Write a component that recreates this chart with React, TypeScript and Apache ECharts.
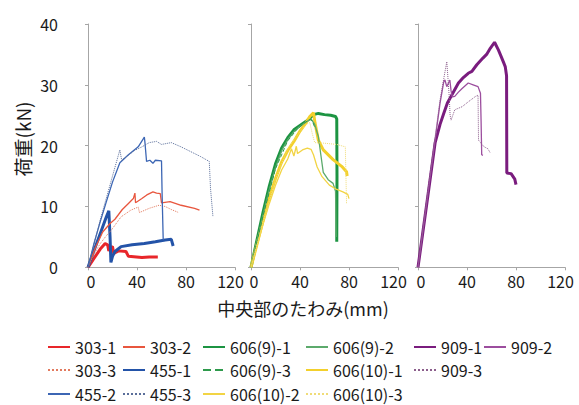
import React, { useEffect, useRef } from "react";
import * as echarts from "echarts";

// tick values
const xTicks = [0, 40, 80, 120];
const yTicks = [0, 10, 20, 30, 40];

// series data [deflection mm, load kN]
const s303_1 = [[0,0],[5,1.5],[10,3.0],[14,3.9],[16,3.7],[17,2.7],[18,3.2],[20,3.4],[21,2.3],[25,2.7],[31,2.6],[33,1.8],[44,1.6],[50,1.7],[57,1.7]];
const s303_2 = [[0,0],[6,3.2],[12,5.8],[18,7.2],[22,7.9],[28,9.5],[33,10.5],[37,11.3],[38.3,12.2],[38.8,10.6],[44,11.3],[48,11.9],[53,12.4],[56,12.2],[59,12.1],[60,10.6],[67,10.8],[76,10.2],[87,9.7],[91,9.4]];
const s303_3 = [[0,0],[5,2.2],[10,3.9],[15,5.2],[19,6.1],[27,8.3],[35,9.4],[41,9.9],[42,9.0],[50,9.7],[58,10.2],[63,10.0],[68,9.5],[74,9.0]];
const s455_1 = [[0,0],[5,2.8],[11,6.1],[15,8.3],[17,9.3],[18,5],[18.7,0.8],[20,1.8],[22,2.6],[27,3.4],[36,3.7],[46,3.9],[55,4.2],[63,4.5],[68,4.6],[69.5,3.5]];
const s455_2 = [[0,0],[5,4],[10,7.5],[15,10.8],[20,14],[26,17.2],[33,18.5],[41,19.8],[46,21.4],[46.5,20.5],[47.8,17.4],[50.5,17.6],[53,17.1],[55,17.6],[60,17.5],[60.5,12],[61.4,4.5]];
const s455_3 = [[0,0],[10,7.8],[20,15],[26,19.3],[27.5,17.6],[32,18.3],[38,19.2],[44,19.8],[50,20.5],[56,20.7],[60,20.2],[68,20.5],[76,19.8],[84,19],[92,18.2],[99,17.4],[100,13],[102,8.3]];
const s606_9_1 = [[0,0],[5,4.6],[10,9.2],[15,13.4],[20,17],[25,19.6],[30,21.3],[35,22.6],[40,23.3],[45,24],[48,24.5],[51,25.1],[55,25.3],[60,25.1],[65,25],[69,24.8],[70,24.4],[70.2,15],[70,4.2]];
const s606_9_2 = [[0,0],[5,4.4],[10,8.8],[15,12.8],[20,16.4],[25,19.2],[30,21],[35,22.3],[40,23.2],[45,23.9],[49,24.4],[52,23.5],[55,21.5],[57,18.5],[59,15.6],[63,14.4],[67,13.8],[69,12.5],[69.5,5]];
const s606_9_3 = [[0,0],[10,8.6],[20,16.2],[30,20.8],[38,22.8],[44,23.8],[48,24.3],[50,24.1],[52,23]];
const s606_10_1 = [[0,0],[5,3.9],[10,7.8],[15,11.5],[20,14.6],[25,17.3],[30,19.2],[35,20.7],[40,22.4],[45,23.8],[48,24.8],[51,25.4],[52.3,23.7],[55,20.9],[59,19.3],[67,17.7],[74,16.6],[78,15.7],[78.5,15]];
const s606_10_2 = [[0,0],[5,3.6],[10,7.2],[15,10.5],[20,13.5],[25,16],[30,17.8],[33,19.5],[35,18.3],[37,19.9],[38,18.7],[42,19.3],[46,19.6],[49,19.4],[51,18.5],[54,16.5],[58,14.9],[64,13.5],[70,12.8],[75,12.4],[79,12],[80,11.3]];
const s606_10_3 = [[0,0],[10,7.5],[20,14.5],[30,19.5],[40,22.3],[45,23.5],[48,23.8],[50,22],[52,20.5],[60,20.4],[70,20.2],[77,19.8],[77.5,15],[78,10.5]];
const s909_1 = [[0,0],[7,10.2],[14,20.5],[18,23.5],[21,25.3],[24,27],[27.5,28.3],[33,30.3],[37,31.2],[41,31.9],[44,32.2],[48,33.3],[53,34.4],[56,35],[59,36],[62.5,37],[65.7,35.7],[68,34.6],[70,33.6],[71.2,33],[72.3,31.5],[72.5,15.5],[76,15.4],[79,14.5],[80,13.6]];
const s909_2 = [[0,0],[10,15],[18,27],[21,30.5],[22,30.8],[23.5,29.7],[26,30.8],[27,29],[28,28],[30,28.1],[33,28.8],[36,29.4],[41,30.3],[45,30],[49,29.7],[51,28.6],[51.5,24],[52,18.5],[53,18.4]];
const s909_3 = [[0,0],[10,15.5],[18,27.5],[21,31],[23.5,33.8],[24.5,31],[25.5,28],[26.2,25],[27,24.2],[30,25.9],[36,26.4],[41,27.2],[47,28.1],[49,28.3],[49.4,20.9],[54,19.8],[57,19.5],[59,18.8]];

const seriesNames = ["303-1","303-2","303-3","455-1","455-2","455-3","606(9)-1","606(9)-2","606(9)-3","606(10)-1","606(10)-2","606(10)-3","909-1","909-2","909-3"];
const seriesData = [s303_1,s303_2,s303_3,s455_1,s455_2,s455_3,s606_9_1,s606_9_2,s606_9_3,s606_10_1,s606_10_2,s606_10_3,s909_1,s909_2,s909_3];

// styles (panel, color, width, line type)
const styles: [number, string, number, string][] = [
  [0, "#E8262A", 3, "solid"],
  [0, "#E8563E", 1.3, "solid"],
  [0, "#E27A5E", 1, "dotted"],
  [0, "#2353A8", 3, "solid"],
  [0, "#3C66B4", 1.3, "solid"],
  [0, "#5A6E9A", 1, "dotted"],
  [1, "#1C9442", 3, "solid"],
  [1, "#5CAA6C", 1.3, "solid"],
  [1, "#2E9A4C", 1, "dashed"],
  [1, "#F3D02C", 3, "solid"],
  [1, "#F2D444", 1.3, "solid"],
  [1, "#F0DC78", 1, "dotted"],
  [2, "#7A1C7E", 3, "solid"],
  [2, "#9C4E9E", 1.3, "solid"],
  [2, "#8C5E8C", 1, "dotted"],
];

// legend placement [left, rowCenter]
const legendPos: [number, number][] = [
  [47, 347], [122, 347], [47, 370], [122, 370], [47, 394], [122, 394],
  [202, 347], [305, 347], [202, 370], [305, 370], [202, 394], [305, 394],
  [413, 347], [483, 347], [413, 370],
];

const FONT = "'Noto Sans CJK JP', 'Noto Sans', sans-serif";
const gridLefts = [88, 251, 418];

export default function App() {
  const ref = useRef<HTMLDivElement>(null);
  useEffect(() => {
    if (!ref.current) return;
    const chart = echarts.init(ref.current, undefined, { renderer: "svg" });
    const axisColor = "#A6A6A6";
    const lbl = { fontSize: 16, color: "#1a1a1a", fontFamily: FONT };
    const grids = gridLefts.map((l) => ({ left: l, top: 24, width: 147, height: 243.3 }));
    const xAxes = gridLefts.map((_, i) => ({
      type: "value",
      gridIndex: i,
      min: xTicks[0],
      max: xTicks[xTicks.length - 1],
      interval: 40,
      axisLine: { show: true, lineStyle: { color: axisColor, width: 1 } },
      axisTick: { show: true, length: 3, lineStyle: { color: axisColor } },
      splitLine: { show: false },
      axisLabel: {
        ...lbl,
        margin: 6,
        formatter: (v: number) =>
          v === xTicks[0] ? `{a|${v}}` : v === xTicks[xTicks.length - 1] ? `{b|${v}}` : `${v}`,
        rich: {
          a: { ...lbl, padding: [0, 0, 0, 6] },
          b: { ...lbl, padding: [0, 9, 0, 0] },
        },
      },
    }));
    const yAxes = gridLefts.map((_, i) => ({
      type: "value",
      gridIndex: i,
      min: yTicks[0],
      max: yTicks[yTicks.length - 1],
      interval: 10,
      axisLine: { show: true, lineStyle: { color: axisColor, width: 1 } },
      axisTick: { show: true, length: 3, lineStyle: { color: axisColor } },
      splitLine: { show: false },
      axisLabel: { show: i === 0, ...lbl, margin: 30 },
    }));
    const series = seriesNames.map((name, i) => {
      const [panel, color, width, type] = styles[i];
      return {
        name,
        type: "line",
        xAxisIndex: panel,
        yAxisIndex: panel,
        data: seriesData[i],
        symbol: "none",
        showSymbol: false,
        color,
        lineStyle: { color, width, type },
        z: 2 + (width > 2 ? 0 : 1),
      };
    });
    const legends = seriesNames.map((name, i) => ({
      data: [name],
      left: legendPos[i][0],
      top: legendPos[i][1] - 9,
      itemWidth: 22,
      itemHeight: 10,
      padding: 0,
      selectedMode: false,
      itemStyle: { opacity: 0, borderWidth: 0 },
      textStyle: { fontSize: 16, lineHeight: 18, color: "#1a1a1a", fontFamily: FONT },
    }));
    chart.setOption({
      animation: false,
      backgroundColor: "#ffffff",
      grid: grids,
      xAxis: xAxes,
      yAxis: yAxes,
      legend: legends,
      series,
      graphic: [
        {
          type: "text",
          x: 303,
          y: 308,
          style: {
            text: "中央部のたわみ(mm)",
            fontSize: 18,
            fontFamily: FONT,
            fill: "#1a1a1a",
            align: "center",
            verticalAlign: "middle",
          },
        },
        {
          type: "text",
          x: 22,
          y: 139,
          rotation: Math.PI / 2,
          style: {
            text: "荷重(kN)",
            fontSize: 19,
            fontFamily: FONT,
            fill: "#1a1a1a",
            align: "center",
            verticalAlign: "middle",
          },
        },
      ],
    });
    return () => chart.dispose();
  }, []);
  return (
    <div
      ref={ref}
      style={{ position: "fixed", left: 0, top: 0, width: 579, height: 405, background: "#fff" }}
    />
  );
}
